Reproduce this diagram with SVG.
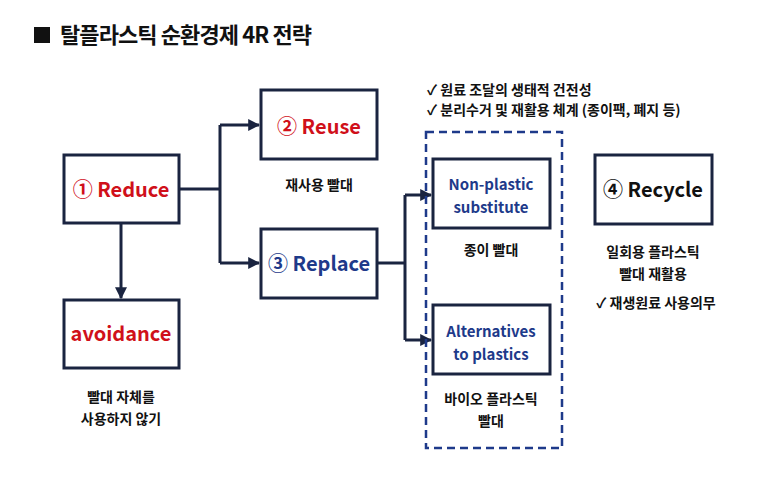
<svg xmlns="http://www.w3.org/2000/svg" width="760" height="488" viewBox="0 0 760 488">
<defs>
<style>
text{font-family:"Noto Sans CJK KR","Liberation Sans",sans-serif;font-weight:bold;text-anchor:middle}
.box{fill:#fff;stroke:#1a2440;stroke-width:3}
.big{font-size:20px}
.mid{font-size:15px}
.sm{font-size:14px;fill:#111}
.red{fill:#d0101a}
.blue{fill:#1e3a8a}
.ln{fill:none;stroke:#1a2440;stroke-width:3}
</style>
<marker id="ar" viewBox="0 0 10 10" refX="9" refY="5" markerWidth="4" markerHeight="4" orient="auto"><path d="M0,0L10,5L0,10z" fill="#1a2440"/></marker>
</defs>
<rect width="760" height="488" fill="#fff"/>
<rect x="34" y="27" width="16" height="16" fill="#111"/>
<text x="60" y="43" style="text-anchor:start;font-size:22px" fill="#111" textLength="252">탈플라스틱 순환경제 4R 전략</text>
<g id="connectors">
<path class="ln" d="M179,189H220M220,125V263M220,125H259" marker-end="url(#ar)"/>
<path class="ln" d="M220,263H259" marker-end="url(#ar)"/>
<path class="ln" d="M121,223V298" marker-end="url(#ar)"/>
<path class="ln" d="M377,263H405M405,195V340M405,195H431" marker-end="url(#ar)"/>
<path class="ln" d="M405,340H431" marker-end="url(#ar)"/>
</g>
<g id="reduce"><rect class="box" x="64" y="155" width="115" height="68"/><text class="big red" x="121" y="197">① Reduce</text></g>
<g id="reuse"><rect class="box" x="261" y="90" width="116" height="69"/><text class="big red" x="319" y="134">② Reuse</text><text class="sm" x="319" y="190">재사용 빨대</text></g>
<g id="replace"><rect class="box" x="261" y="229" width="116" height="69"/><text class="big blue" x="319" y="271">③ Replace</text></g>
<g id="avoidance"><rect class="box" x="64" y="300" width="115" height="68"/><text class="big red" x="121" y="341">avoidance</text><text class="sm" x="121" y="402">빨대 자체를</text><text class="sm" x="121" y="424">사용하지 않기</text></g>
<g id="group"><rect x="426" y="132" width="136" height="316" fill="none" stroke="#1e3a8a" stroke-width="2.5" stroke-dasharray="8,5"/></g>
<g id="nonplastic"><rect class="box" x="433" y="159" width="117" height="69"/><text class="mid blue" x="491" y="190">Non-plastic</text><text class="mid blue" x="491" y="213">substitute</text><text class="sm" x="491" y="255">종이 빨대</text></g>
<g id="alternatives"><rect class="box" x="433" y="305" width="117" height="69"/><text class="mid blue" x="491" y="337">Alternatives</text><text class="mid blue" x="491" y="360">to plastics</text><text class="sm" x="491" y="404">바이오 플라스틱</text><text class="sm" x="491" y="426">빨대</text></g>
<g id="recycle"><rect class="box" x="595" y="155" width="117" height="69"/><text class="big" fill="#111" x="653" y="197">④ Recycle</text><text class="sm" x="653" y="257">일회용 플라스틱</text><text class="sm" x="653" y="279">빨대 재활용</text><text class="sm" x="656" y="308">✓ 재생원료 사용의무</text></g>
<g id="notes"><text class="sm" x="427" y="95" style="text-anchor:start">✓ 원료 조달의 생태적 건전성</text><text class="sm" x="427" y="115" style="text-anchor:start">✓ 분리수거 및 재활용 체계 (종이팩, 폐지 등)</text></g>
</svg>
